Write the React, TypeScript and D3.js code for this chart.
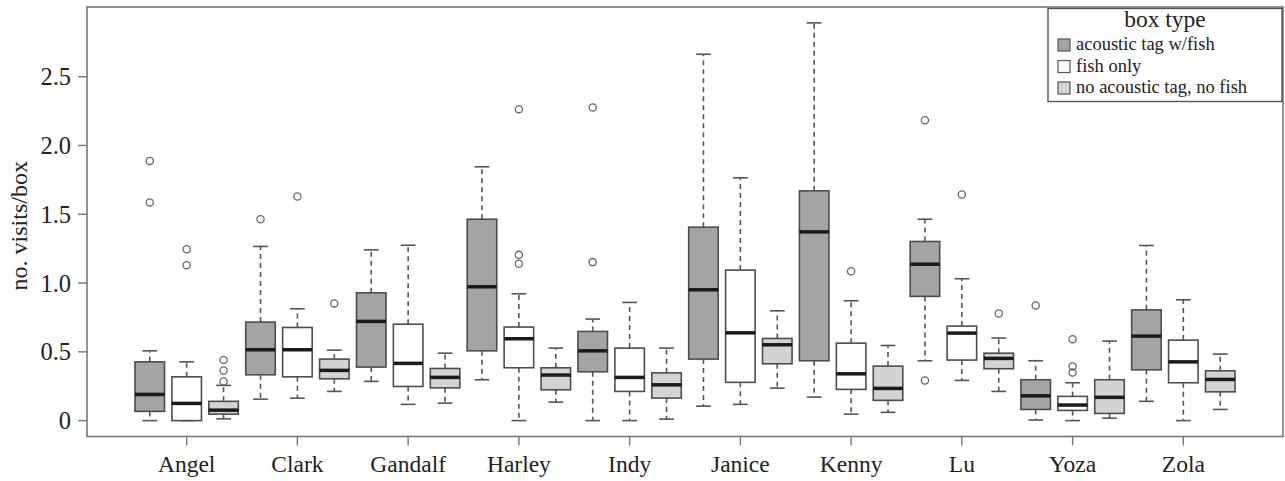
import React from "react";
import * as d3 from "d3";

// ---- data ----
const categories = ["Angel", "Clark", "Gandalf", "Harley", "Indy", "Janice", "Kenny", "Lu", "Yoza", "Zola"];
const seriesNames = ["acoustic tag w/fish", "fish only", "no acoustic tag, no fish"];
const yTicks = [0, 0.5, 1.0, 1.5, 2.0, 2.5];
const yTickLabels = ["0", "0.5", "1.0", "1.5", "2.0", "2.5"];

// [lower whisker, Q1, median, Q3, upper whisker]
const tagFishStats = [
  [0.0, 0.067, 0.19, 0.427, 0.507],
  [0.156, 0.333, 0.515, 0.716, 1.266],
  [0.285, 0.389, 0.721, 0.929, 1.241],
  [0.297, 0.507, 0.973, 1.464, 1.845],
  [0.0, 0.355, 0.507, 0.648, 0.738],
  [0.105, 0.447, 0.951, 1.406, 2.663],
  [0.171, 0.435, 1.372, 1.67, 2.891],
  [0.435, 0.903, 1.137, 1.302, 1.464],
  [0.004, 0.081, 0.18, 0.297, 0.435],
  [0.14, 0.369, 0.614, 0.805, 1.273],
];
const tagFishOutliers = [[1.586, 1.888], [1.464], [], [], [1.152, 2.276], [], [], [0.291, 2.184], [0.837], []];

const fishOnlyStats = [
  [0.0, 0.0, 0.125, 0.318, 0.427],
  [0.163, 0.318, 0.515, 0.677, 0.813],
  [0.118, 0.248, 0.416, 0.701, 1.275],
  [0.0, 0.384, 0.595, 0.68, 0.922],
  [0.0, 0.212, 0.314, 0.527, 0.859],
  [0.118, 0.278, 0.638, 1.094, 1.765],
  [0.047, 0.227, 0.34, 0.563, 0.871],
  [0.292, 0.44, 0.636, 0.687, 1.031],
  [0.0, 0.074, 0.113, 0.176, 0.275],
  [0.0, 0.275, 0.427, 0.585, 0.878],
];
const fishOnlyOutliers = [[1.13, 1.246], [1.629], [], [1.14, 1.205, 2.264], [], [], [1.086], [1.644], [0.35, 0.394, 0.592], []];

const noTagStats = [
  [0.013, 0.047, 0.076, 0.14, 0.256],
  [0.212, 0.304, 0.365, 0.447, 0.512],
  [0.127, 0.238, 0.314, 0.379, 0.49],
  [0.134, 0.224, 0.331, 0.384, 0.527],
  [0.011, 0.164, 0.26, 0.347, 0.527],
  [0.236, 0.413, 0.551, 0.597, 0.798],
  [0.06, 0.147, 0.234, 0.396, 0.546],
  [0.212, 0.377, 0.452, 0.49, 0.6],
  [0.018, 0.052, 0.169, 0.297, 0.578],
  [0.081, 0.209, 0.299, 0.362, 0.483],
];
const noTagOutliers = [[0.285, 0.365, 0.44], [0.852], [], [], [], [], [], [0.779], [], []];

const seriesFills = ["#a4a4a7", "#ffffff", "#d3d3d3"];

// ---- layout ----
const W = 1285;
const H = 481;
const plotLeft = 87;
const plotRight = 1283;
const plotTop = 7;
const plotBottom = 436.5;
const FONT = "'Liberation Serif', 'Times New Roman', serif";

export default function App() {
  const nBoxes = categories.length * 3;
  const pad = 0.04 * nBoxes;
  const x = d3.scaleLinear().domain([0.5 - pad, nBoxes + 0.5 + pad]).range([plotLeft, plotRight]);
  const maxV = d3.max([...tagFishStats, ...fishOnlyStats, ...noTagStats].flat()) as number;
  const minV = 0;
  const ypad = 0.04 * (maxV - minV);
  const y = d3.scaleLinear().domain([minV - ypad, maxV + ypad]).range([plotBottom, plotTop]);

  const allStats = [tagFishStats, fishOnlyStats, noTagStats];
  const allOut = [tagFishOutliers, fishOnlyOutliers, noTagOutliers];

  const boxes: any[] = [];
  categories.forEach((c, ci) => {
    for (let s = 0; s < 3; s++) {
      boxes.push({ pos: ci * 3 + s + 1, stats: allStats[s][ci], out: allOut[s][ci], fill: seriesFills[s], key: c + s });
    }
  });
  const boxW = x(0.8) - x(0);
  const capW = boxW / 2;
  const stroke = "#4d4d4d";

  return (
    <svg width={W} height={H} style={{ position: "absolute", left: 0, top: 0, background: "#fff" }}>
      <rect x={0} y={0} width={W} height={H} fill="#fff" />
      {boxes.map((b) => {
        const cx = x(b.pos);
        const [lo, q1, med, q3, hi] = b.stats;
        return (
          <g key={b.key}>
            <line x1={cx} x2={cx} y1={y(q3)} y2={y(hi)} stroke="#555" strokeWidth={1.6} strokeDasharray="5,4" />
            <line x1={cx} x2={cx} y1={y(q1)} y2={y(lo)} stroke="#555" strokeWidth={1.6} strokeDasharray="5,4" />
            <line x1={cx - capW / 2} x2={cx + capW / 2} y1={y(hi)} y2={y(hi)} stroke="#555" strokeWidth={1.6} />
            <line x1={cx - capW / 2} x2={cx + capW / 2} y1={y(lo)} y2={y(lo)} stroke="#555" strokeWidth={1.6} />
            <rect x={cx - boxW / 2} y={y(q3)} width={boxW} height={Math.max(0, y(q1) - y(q3))} fill={b.fill} stroke={stroke} strokeWidth={1.6} />
            <line x1={cx - boxW / 2} x2={cx + boxW / 2} y1={y(med)} y2={y(med)} stroke="#1a1a1a" strokeWidth={3.5} />
            {b.out.map((o: number, i: number) => (
              <circle key={i} cx={cx} cy={y(o)} r={3.6} fill="none" stroke="#666" strokeWidth={1.3} />
            ))}
          </g>
        );
      })}
      {/* frame */}
      <rect x={plotLeft} y={plotTop} width={plotRight - plotLeft} height={plotBottom - plotTop} fill="none" stroke="#777" strokeWidth={1.6} />
      {/* y axis */}
      {yTicks.map((t, i) => (
        <g key={t}>
          <line x1={plotLeft - 9} x2={plotLeft} y1={y(t)} y2={y(t)} stroke="#777" strokeWidth={1.4} />
          <text x={71} y={y(t)} dy="0.35em" textAnchor="end" fontFamily={FONT} fontSize={24.5} fill="#222">
            {yTickLabels[i]}
          </text>
        </g>
      ))}
      <text transform={`translate(27,${(plotTop + plotBottom) / 2 + 4}) rotate(-90)`} textAnchor="middle" fontFamily={FONT} fontSize={24} fill="#222">
        no. visits/box
      </text>
      {/* x axis */}
      {categories.map((c, ci) => {
        const cx = x(ci * 3 + 2);
        return (
          <g key={c}>
            <line x1={cx} x2={cx} y1={plotBottom} y2={plotBottom + 9} stroke="#777" strokeWidth={1.4} />
            <text x={cx} y={472} textAnchor="middle" fontFamily={FONT} fontSize={23.5} fill="#222">
              {c}
            </text>
          </g>
        );
      })}
      {/* legend */}
      <g>
        <rect x={1048} y={8.5} width={1282 - 1048} height={93} fill="#fff" stroke="#555" strokeWidth={1.4} />
        <text x={(1048 + 1282) / 2} y={27} textAnchor="middle" fontFamily={FONT} fontSize={23.5} fill="#222">
          box type
        </text>
        {seriesNames.map((n, i) => (
          <g key={n}>
            <rect x={1058} y={39 + i * 21.5} width={12} height={12} fill={seriesFills[i]} stroke="#555" strokeWidth={1.2} />
            <text x={1076} y={50 + i * 21.5} fontFamily={FONT} fontSize={18.5} fill="#222">
              {n}
            </text>
          </g>
        ))}
      </g>
    </svg>
  );
}
